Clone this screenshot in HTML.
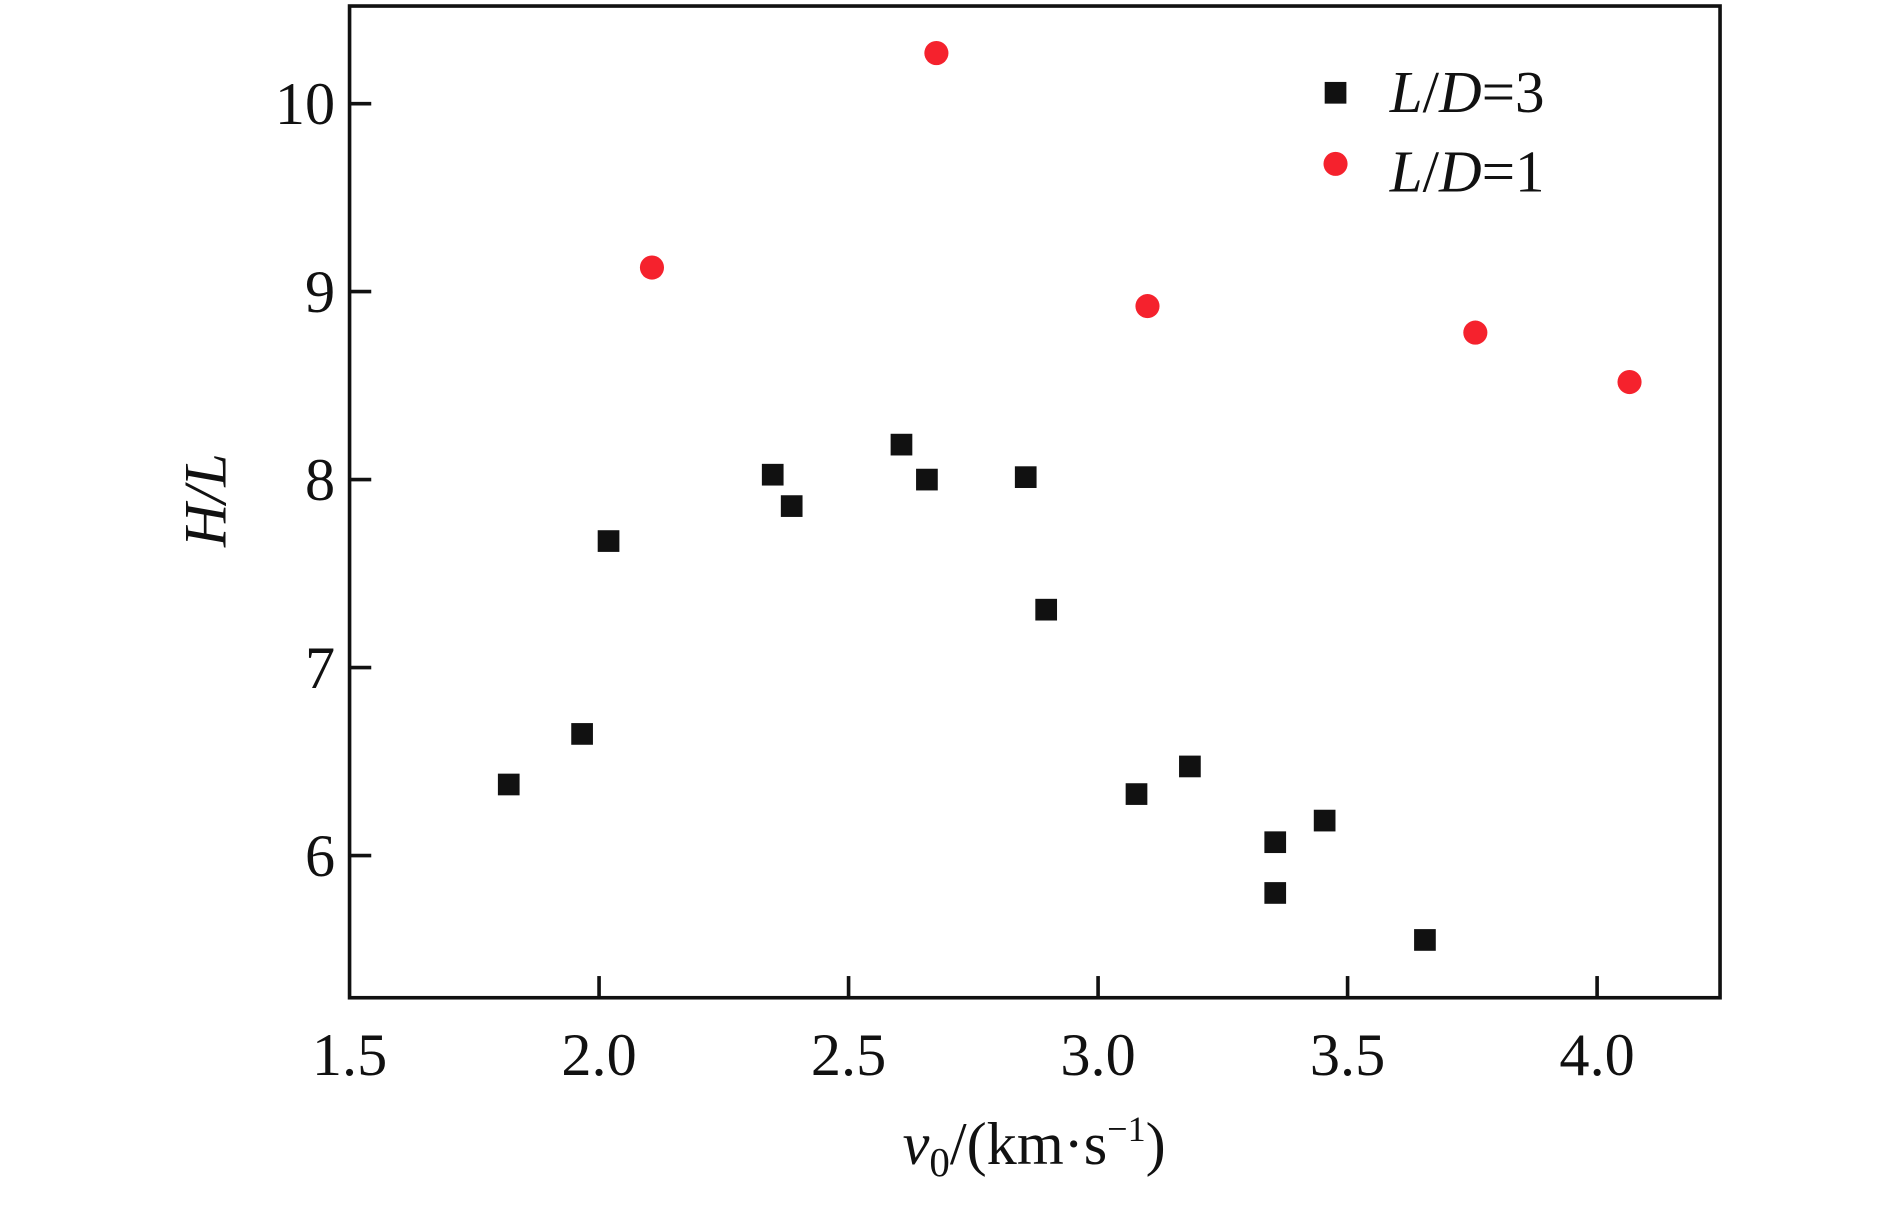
<!DOCTYPE html>
<html><head><meta charset="utf-8"><style>
html,body{margin:0;padding:0;background:#fff;}
svg{display:block;}
text{font-family:"Liberation Serif","Times New Roman",serif;fill:#111;}
</style></head><body>
<svg id="chart" width="1890" height="1205" viewBox="0 0 1568 1000" preserveAspectRatio="none" xmlns="http://www.w3.org/2000/svg">
<g id="marks"></g>
<rect x="290" y="5" width="1137" height="823" fill="none" stroke="#111" stroke-width="3"/>
<g id="axes"></g>
<text font-family="Liberation Serif, serif" transform="translate(187,415) rotate(-90)" text-anchor="middle" font-size="50" font-style="italic">H/L</text>
<text font-family="Liberation Serif, serif" x="858" y="966" text-anchor="middle" font-size="50"><tspan font-style="italic">v</tspan><tspan font-size="34" dy="10">0</tspan><tspan dy="-10">/(km·s</tspan><tspan font-size="30" dy="-19">−1</tspan><tspan dy="19">)</tspan></text>
<g>
<rect x="1099" y="68" width="18" height="18" fill="#111"/>
<text font-family="Liberation Serif, serif" x="1153" y="93" font-size="49"><tspan font-style="italic">L</tspan>/<tspan font-style="italic">D</tspan>=3</text>
<circle cx="1108" cy="136" r="10" fill="#f5222d"/>
<text font-family="Liberation Serif, serif" x="1153" y="159" font-size="49"><tspan font-style="italic">L</tspan>/<tspan font-style="italic">D</tspan>=1</text>
</g>
</svg>
<script>
const xTicks = [1.5, 2.0, 2.5, 3.0, 3.5, 4.0];
const xTickLabels = ["1.5", "2.0", "2.5", "3.0", "3.5", "4.0"];
const yTicks = [6, 7, 8, 9, 10];
const yTickLabels = ["6", "7", "8", "9", "10"];
const ld3X = [1.819, 1.966, 2.019, 2.348, 2.386, 2.606, 2.657, 2.855, 2.896, 3.077, 3.184, 3.355, 3.355, 3.454, 3.655];
const ld3Y = [6.378, 6.647, 7.673, 8.026, 7.859, 8.186, 8.0, 8.013, 7.308, 6.327, 6.474, 6.071, 5.801, 6.186, 5.551];
const ld1X = [2.106, 2.676, 3.099, 3.756, 4.065];
const ld1Y = [9.128, 10.269, 8.923, 8.782, 8.519];

const NS = "http://www.w3.org/2000/svg";
const X0 = 290, X1 = 1427, Y0 = 828, Y1 = 5;
const xMin = 1.5, xMax = 1.5 + (X1 - X0) / 414;
const yMin = 6 - (Y0 - 710) / 156, yMax = 10 + (86 - Y1) / 156;
function sx(v){ return X0 + (v - xMin) / (xMax - xMin) * (X1 - X0); }
function sy(v){ return Y0 - (v - yMin) / (yMax - yMin) * (Y0 - Y1); }
function mk(tag, attrs){ const e = document.createElementNS(NS, tag); for (const k in attrs) e.setAttribute(k, attrs[k]); return e; }

const axes = document.getElementById('axes');
xTicks.forEach((t, i) => {
  const x = sx(t);
  if (i > 0) {
    const l = mk('line', {x1:x, x2:x, y1:Y0, y2:Y0-18, stroke:'#111', 'stroke-width':3});
    
    
    axes.appendChild(l);
  }
  const tx = mk('text', {x:x, y:Y0+64, 'text-anchor':'middle', 'font-size':50, 'font-family':'Liberation Serif, serif'});
  tx.textContent = xTickLabels[i];
  
  
  axes.appendChild(tx);
});
yTicks.forEach((t, i) => {
  const y = sy(t);
  const l = mk('line', {x1:X0, x2:X0+18, y1:y, y2:y, stroke:'#111', 'stroke-width':3});
  
  
  axes.appendChild(l);
  const tx = mk('text', {x:X0-12, y:y+17, 'text-anchor':'end', 'font-size':50, 'font-family':'Liberation Serif, serif'});
  tx.textContent = yTickLabels[i];
  
  
  axes.appendChild(tx);
});

const marks = document.getElementById('marks');
ld3X.forEach((v, i) => {
  const r = mk('rect', {x:sx(v)-9, y:sy(ld3Y[i])-9, width:18, height:18, fill:'#111'});
  
  
  marks.appendChild(r);
});
ld1X.forEach((v, i) => {
  const c = mk('circle', {cx:sx(v), cy:sy(ld1Y[i]), r:10, fill:'#f5222d'});
  
  
  marks.appendChild(c);
});
</script>
</body></html>
